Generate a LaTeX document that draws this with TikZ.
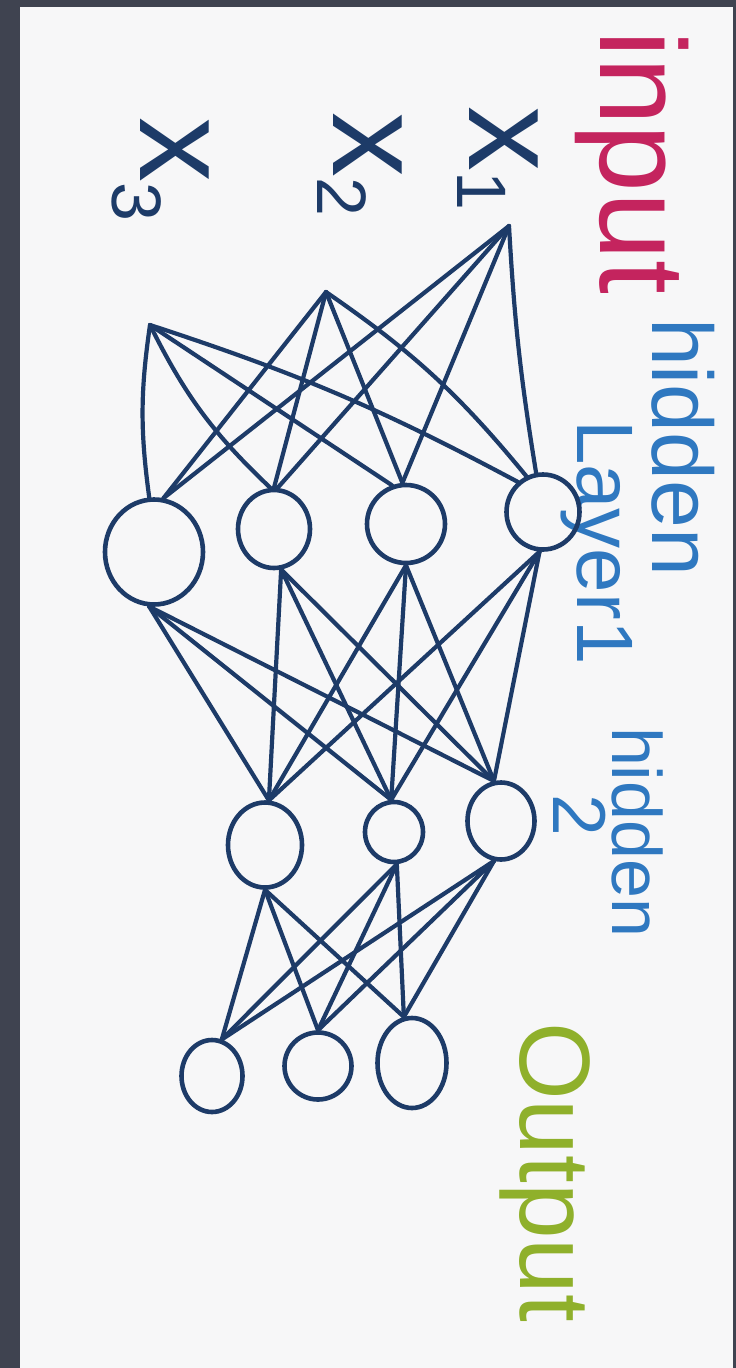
\documentclass[tikz,border=0pt]{standalone}
\usepackage{fontspec}
\setmainfont{Liberation Sans}
\usetikzlibrary{shapes.geometric}
\definecolor{navy}{HTML}{1D3B68}
\definecolor{darkbg}{HTML}{3F4350}
\definecolor{paper}{HTML}{F7F7F8}
\definecolor{pinkc}{HTML}{C4245E}
\definecolor{bluec}{HTML}{2F78C0}
\definecolor{greenc}{HTML}{8FB02B}
\tikzset{
  neuron/.style={ellipse, draw=navy, line width=4.6pt, inner sep=0pt},
  wire/.style={draw=navy, line width=4.2pt, line cap=round},
  lbl/.style={rotate=-90, inner sep=0pt, outer sep=0pt},
}
\begin{document}
\begin{tikzpicture}[x=1pt,y=-1pt]
\useasboundingbox (0,0) rectangle (736,1368);
\fill[darkbg] (0,0) rectangle (736,1368);
\fill[paper] (20,7) rectangle (733,1368);

% labels
\node[lbl, anchor=base west, text=pinkc, font=\fontsize{122}{122}\selectfont] (linput) at (600,30) {input};
\node[lbl, anchor=base west, text=bluec, font=\fontsize{86}{86}\selectfont] (lhid1) at (652,318) {hidden};
\node[lbl, anchor=base west, text=bluec, font=\fontsize{80}{80}\selectfont] (llay1) at (577,420) {Layer1};
\node[lbl, anchor=base west, text=bluec, font=\fontsize{70}{70}\selectfont] (lhid2) at (612,727) {hidden};
\node[lbl, text=bluec, font=\fontsize{75}{75}\selectfont] (ltwo) at (580,815) {2};
\node[lbl, anchor=base west, text=greenc, font=\fontsize{100}{100}\selectfont] (lout) at (520,1022) {Output};

% input labels
\node[lbl, anchor=base west, text=navy, font=\fontsize{130}{130}\selectfont] (lx1) at (469,106) {x\raisebox{-12pt}{\fontsize{70}{70}\selectfont 1}};
\node[lbl, anchor=base west, text=navy, font=\fontsize{130}{130}\selectfont] (lx2) at (333,112) {x\raisebox{-16pt}{\fontsize{70}{70}\selectfont 2}};
\node[lbl, anchor=base west, text=navy, font=\fontsize{130}{130}\selectfont] (lx3) at (140,117) {x\raisebox{-28pt}{\fontsize{70}{70}\selectfont 3}};

% input points
\coordinate (i1) at (509,226);
\coordinate (i2) at (326,292);
\coordinate (i3) at (150,325);

% hidden layer 1
\node[neuron, minimum width=73pt, minimum height=75pt] (A) at (543,512) {};
\node[neuron, minimum width=78pt, minimum height=78pt] (B) at (406,524) {};
\node[neuron, minimum width=72pt, minimum height=78pt] (C) at (274,529) {};
\node[neuron, minimum width=98pt, minimum height=105pt] (D) at (154,552) {};

% hidden layer 2
\node[neuron, minimum width=67pt, minimum height=77pt] (E) at (501,821) {};
\node[neuron, minimum width=58pt, minimum height=60pt] (F) at (394,832) {};
\node[neuron, minimum width=74pt, minimum height=85pt] (G) at (265,845) {};

% output layer
\node[neuron, minimum width=69pt, minimum height=90pt] (O1) at (412,1063) {};
\node[neuron, minimum width=67pt, minimum height=67pt] (O2) at (318,1066) {};
\node[neuron, minimum width=61pt, minimum height=72pt] (O3) at (212,1076) {};

% input -> hidden 1
\draw[wire] (i1) to[bend right=3] (A.100);
\draw[wire] (i1) -- (B.95);
\draw[wire] (i1) -- (C.85);
\draw[wire] (i1) -- (D.80);
\draw[wire] (i2) to[bend left=8] (A.115);
\draw[wire] (i2) -- (B.95);
\draw[wire] (i2) -- (C.90);
\draw[wire] (i2) -- (D.80);
\draw[wire] (i3) to[bend right=8] (D.95);
\draw[wire] (i3) to[bend right=10] (C.95);
\draw[wire] (i3) -- (B.110);
\draw[wire] (i3) to[bend left=5] (A.130);

% hidden 1 -> hidden 2
\foreach \s/\a in {A/-95, B/-90, C/-80, D/-95}{
  \draw[wire] (\s.\a) -- (G.85);
  \draw[wire] (\s.\a) -- (F.95);
  \draw[wire] (\s.\a) -- (E.100);
}

% hidden 2 -> output
\foreach \s/\a in {G/-90, F/-85, E/-100}{
  \draw[wire] (\s.\a) -- (O1.100);
  \draw[wire] (\s.\a) -- (O2.90);
  \draw[wire] (\s.\a) -- (O3.75);
}
\end{tikzpicture}
\end{document}
